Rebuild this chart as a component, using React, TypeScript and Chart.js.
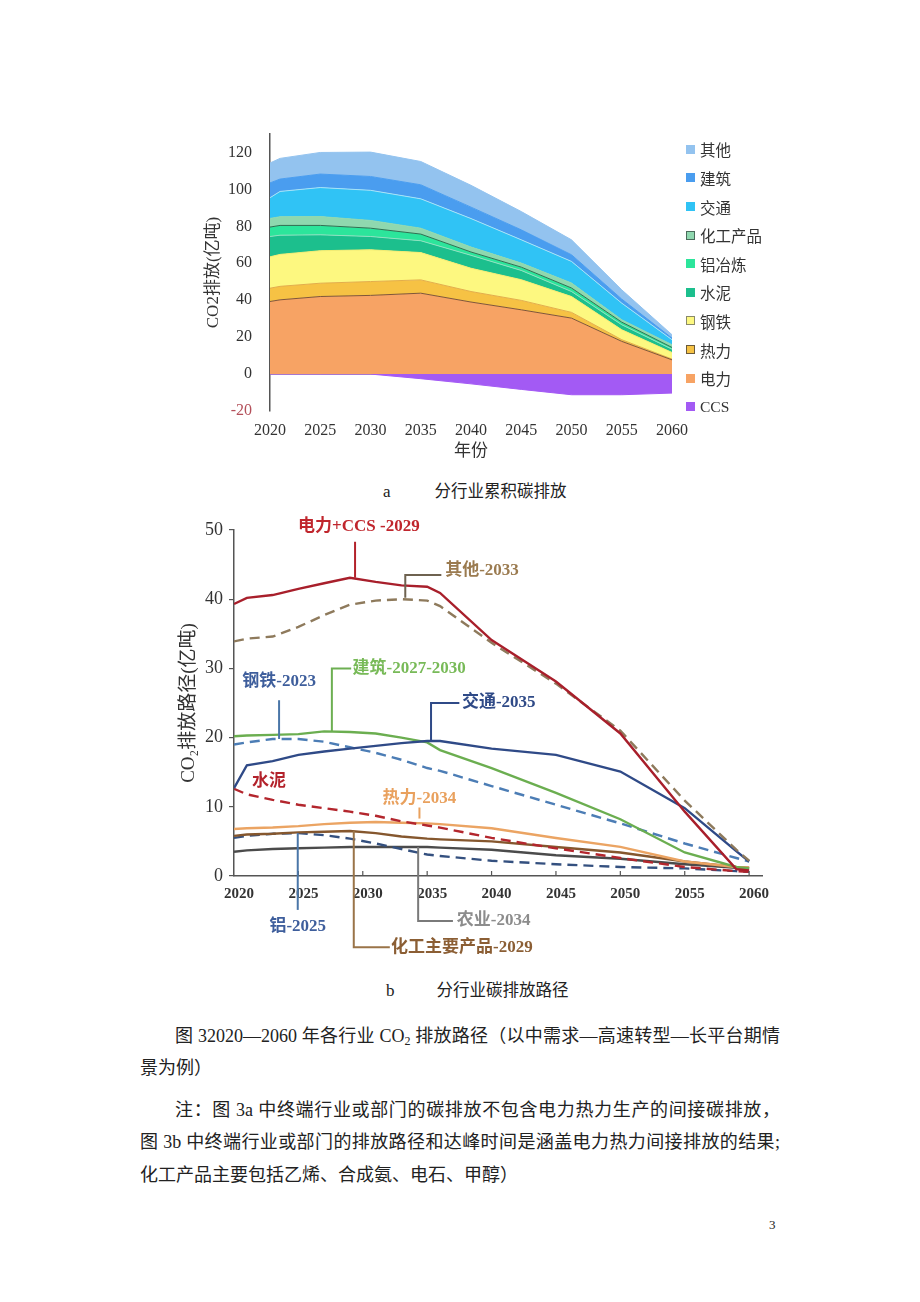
import React, { useEffect, useRef } from 'react';
import { Chart, registerables } from 'chart.js';

Chart.register(...registerables);

const FONT = "'Liberation Serif', 'Noto Sans CJK SC', serif";

// ---------- Chart a: stacked sector emissions ----------
const yearsA = [2020, 2021, 2025, 2030, 2035, 2040, 2045, 2050, 2055, 2060];
const powerA = [39.3, 40.2, 42.0, 42.6, 43.8, 39.0, 34.8, 30.3, 17.7, 7.7];
const heatA = [7.2, 7.3, 7.2, 7.5, 7.2, 5.7, 5.1, 3.1, 0.9, 0.4];
const steelA = [17.0, 17.3, 17.6, 17.2, 14.8, 12.6, 11.2, 8.6, 5.4, 3.6];
const cementA = [11.0, 10.4, 8.6, 7.2, 6.4, 7.0, 5.0, 2.7, 2.7, 1.8];
const aluminumA = [5.1, 5.3, 5.1, 4.5, 3.6, 1.8, 1.8, 1.9, 1.4, 0.9];
const chemA = [4.7, 4.7, 4.8, 4.2, 3.2, 2.7, 2.2, 2.7, 1.3, 1.5];
const transportA = [11.2, 13.7, 15.7, 16.3, 15.9, 15.4, 12.6, 11.7, 9.0, 2.7];
const buildingA = [8.0, 6.7, 7.3, 7.5, 7.6, 6.2, 5.4, 3.6, 2.2, 0.9];
const otherA = [10.8, 11.2, 11.7, 13.2, 12.6, 11.8, 9.9, 8.1, 5.0, 1.8];
const ccsA = [0, 0, 0, 0, -2.5, -5.3, -8.3, -11.2, -11.2, -10.3];
const namesA = ['电力', '热力', '钢铁', '水泥', '铝冶炼', '化工产品', '交通', '建筑', '其他', 'CCS'];
const legendOrderA = [8, 7, 6, 5, 4, 3, 2, 1, 0, 9];
const yTicksA = [-20, 0, 20, 40, 60, 80, 100, 120];

const fillA = ['#F7A364', '#F6C244', '#FDF880', '#1CBF8D', '#2CE59B', '#8FD8AF', '#30C3F5', '#4A9DEF', '#93C3EF', '#A35AF4'];
const edgeA = ['#7F5536', '#E3AE4A', '#F3EC72', '#8FE2C0', '#2F6E50', '#8FD8AF', '#A6E2F7', '#4A9DEF', '#93C3EF', '#A35AF4'];
const legendBorderA = ['transparent', '#6b5a3a', '#8a8a6a', 'transparent', 'transparent', '#4b6b5b', 'transparent', 'transparent', 'transparent', 'transparent'];

// ---------- Chart b: sector pathways ----------
const yearsB = [2020, 2021, 2023, 2025, 2027, 2029, 2031, 2033, 2035, 2036, 2040, 2045, 2050, 2055, 2059, 2060];
const powerB = [39.3, 40.2, 40.6, 41.5, 42.3, 43.1, 42.5, 42.0, 41.8, 40.9, 34.1, 28.1, 20.6, 9.3, 1.0, 0.8];
const otherB = [33.9, 34.3, 34.6, 36.0, 37.7, 39.2, 39.8, 40.0, 39.8, 39.0, 33.7, 27.8, 21.0, 10.9, 3.8, 2.2];
const transportB = [12.7, 16.0, 16.6, 17.5, 18.0, 18.4, 18.8, 19.2, 19.5, 19.5, 18.4, 17.5, 15.1, 9.8, 3.6, 2.1];
const buildingB = [20.2, 20.3, 20.4, 20.5, 20.9, 20.8, 20.6, 20.0, 19.3, 18.2, 15.6, 12.0, 8.2, 3.4, 1.3, 1.1];
const steelB = [19.0, 19.3, 19.8, 19.8, 19.4, 18.6, 17.8, 16.8, 15.6, 15.2, 13.0, 10.3, 7.6, 4.7, 2.6, 2.1];
const cementB = [12.6, 11.8, 11.0, 10.3, 9.8, 9.3, 8.7, 7.9, 7.3, 7.0, 5.5, 4.0, 2.6, 1.3, 0.7, 0.6];
const heatB = [6.8, 6.9, 7.0, 7.2, 7.5, 7.7, 7.8, 7.7, 7.6, 7.5, 6.9, 5.5, 4.2, 2.1, 1.3, 1.2];
const chemB = [5.8, 6.0, 6.1, 6.3, 6.4, 6.5, 6.2, 5.7, 5.4, 5.3, 5.0, 4.2, 3.4, 2.1, 1.3, 1.2];
const aluminumB = [5.5, 5.8, 6.1, 6.2, 5.9, 5.4, 4.7, 3.9, 3.1, 2.9, 2.2, 1.7, 1.3, 1.1, 0.7, 0.6];
const agriB = [3.5, 3.7, 3.9, 4.0, 4.1, 4.2, 4.2, 4.2, 4.2, 4.1, 3.8, 3.0, 2.5, 1.7, 1.2, 1.1];
const namesB = ['电力+CCS', '其他', '交通', '建筑', '钢铁', '水泥', '热力', '化工主要产品', '铝', '农业'];
const colorsB = ['#A81F2B', '#8E7A5C', '#2F4A87', '#6BAE50', '#4C7DB5', '#B3262D', '#EBA463', '#85572E', '#34507F', '#4B4B4B'];
const dashedB = [false, true, false, false, true, true, false, false, true, false];

// callouts (in data units: year, 亿吨)
const calloutsB = [
  { text: '电力+CCS -2029', color: '#C0262D', line: '#B3222B', x: 2029.4, from: 43.1, to: 48.3, labelX: 2029.7, labelY: 50.5, align: 'center' },
  { text: '其他-2033', color: '#9B7B50', line: '#6E6250', x: 2033.3, from: 40.2, to: 43.5, toX: 2036.1, labelX: 2036.4, labelY: 44.1, align: 'left' },
  { text: '建筑-2027-2030', color: '#78BA58', line: '#6DAF52', x: 2027.6, from: 20.9, to: 30.0, toX: 2029.1, labelX: 2029.2, labelY: 30.0, align: 'left' },
  { text: '钢铁-2023', color: '#3E5E9C', line: '#4A76A8', x: 2023.5, from: 19.8, to: 25.4, labelX: 2023.5, labelY: 28.1, align: 'center' },
  { text: '交通-2035', color: '#2F4A87', line: '#2F4A87', x: 2035.3, from: 19.5, to: 25.0, toX: 2037.5, labelX: 2037.7, labelY: 25.1, align: 'left' },
  { text: '水泥', color: '#B3222B', labelX: 2021.4, labelY: 13.6, align: 'left' },
  { text: '热力-2034', color: '#E9A15E', line: '#E9A15E', x: 2034.4, from: 8.3, to: 9.9, labelX: 2034.4, labelY: 11.2, align: 'center' },
  { text: '铝-2025', color: '#3E5E9C', line: '#4A76A8', x: 2024.95, from: 6.2, to: -4.9, labelX: 2024.95, labelY: -7.3, align: 'center' },
  { text: '农业-2034', color: '#8C8C8C', line: '#7A7A7A', x: 2034.3, from: 4.2, to: -6.5, toX: 2037.0, labelX: 2037.3, labelY: -6.5, align: 'left' },
  { text: '化工主要产品-2029', color: '#8B5E34', line: '#9A7448', x: 2029.3, from: 6.5, to: -10.3, toX: 2032.1, labelX: 2032.2, labelY: -10.3, align: 'left' },
];

function StackedChart() {
  const ref = useRef<HTMLCanvasElement>(null);
  useEffect(() => {
    const series = [powerA, heatA, steelA, cementA, aluminumA, chemA, transportA, buildingA, otherA, ccsA];
    const datasets = series.map((vals, i) => ({
      label: namesA[i],
      data: yearsA.map((x, j) => ({ x, y: vals[j] })),
      backgroundColor: fillA[i],
      borderColor: edgeA[i],
      borderWidth: 1,
      pointRadius: 0,
      tension: 0,
      fill: i === 0 || i === 9 ? 'origin' : '-1',
      stack: i === 9 ? 'ccs' : 'main',
    }));
    const chart = new Chart(ref.current as HTMLCanvasElement, {
      type: 'line',
      data: { datasets } as any,
      options: {
        animation: false,
        responsive: false,
        layout: { padding: { top: 14, right: 22, left: 0, bottom: 0 } },
        plugins: { legend: { display: false }, tooltip: { enabled: false } },
        scales: {
          x: {
            type: 'linear', min: 2020, max: 2060,
            grid: { display: true, drawOnChartArea: false, drawTicks: true, tickLength: 6, tickColor: 'rgba(0,0,0,0)', color: 'rgba(0,0,0,0)' },
            border: { display: false },
            ticks: { stepSize: 5, padding: 4, color: '#333', maxRotation: 0, font: { family: FONT, size: 16 }, callback: (v: any) => String(v) },
            title: { display: true, text: '年份', color: '#333', font: { family: FONT, size: 17 }, padding: { top: 0, bottom: 18 } },
            afterFit: (s: any) => { s.height = 69; },
          },
          y: {
            stacked: true, min: -20, max: 130, z: 1,
            afterBuildTicks: (s: any) => { s.ticks = yTicksA.map((v) => ({ value: v })); },
            grid: {
              display: true, drawOnChartArea: true, drawTicks: true, tickLength: 14, tickColor: 'rgba(0,0,0,0)', lineWidth: 1.5,
              color: (c: any) => (c.tick && c.tick.value === 0 ? '#5B4343' : 'rgba(0,0,0,0)'),
            },
            border: { display: true, color: '#555', width: 1.5 },
            ticks: {
              padding: 4, font: { family: FONT, size: 16 },
              color: (c: any) => (c.tick && c.tick.value < 0 ? '#B4505A' : '#333'),
            },
            title: { display: true, text: 'CO2排放(亿吨)', color: '#333', font: { family: FONT, size: 17 }, padding: { top: 33, bottom: 0 } },
            afterFit: (s: any) => { s.width = 100; },
          },
        },
      } as any,
    });
    return () => chart.destroy();
  }, []);
  return (
    <canvas ref={ref} width={524} height={360} style={{ position: 'absolute', left: 170, top: 120, width: 524, height: 360 }} />
  );
}

const calloutPlugin = {
  id: 'callouts',
  afterDatasetsDraw(chart: any) {
    const { ctx, scales } = chart;
    const x = scales.x;
    const y = scales.y;
    ctx.save();
    ctx.strokeStyle = '#555';
    ctx.lineWidth = 1.2;
    x.ticks.forEach((t: any) => {
      if (t.value === x.min) return;
      const px = x.getPixelForValue(t.value);
      ctx.beginPath();
      ctx.moveTo(px, y.bottom);
      ctx.lineTo(px, y.bottom - 5);
      ctx.stroke();
    });
    calloutsB.forEach((a: any) => {
      if (a.x !== undefined) {
        ctx.strokeStyle = a.line;
        ctx.lineWidth = 2;
        ctx.beginPath();
        const px = x.getPixelForValue(a.x);
        ctx.moveTo(px, y.getPixelForValue(a.from));
        ctx.lineTo(px, y.getPixelForValue(a.to));
        if (a.toX !== undefined) ctx.lineTo(x.getPixelForValue(a.toX), y.getPixelForValue(a.to));
        ctx.stroke();
      }
      ctx.fillStyle = a.color;
      ctx.font = `bold 17px ${FONT}`;
      ctx.textAlign = a.align;
      ctx.textBaseline = 'middle';
      ctx.fillText(a.text, x.getPixelForValue(a.labelX), y.getPixelForValue(a.labelY));
    });
    ctx.restore();
  },
};

function PathChart() {
  const ref = useRef<HTMLCanvasElement>(null);
  useEffect(() => {
    const series = [powerB, otherB, transportB, buildingB, steelB, cementB, heatB, chemB, aluminumB, agriB];
    const datasets = series.map((vals, i) => ({
      label: namesB[i],
      data: yearsB.map((x, j) => ({ x, y: vals[j] })),
      borderColor: colorsB[i],
      backgroundColor: colorsB[i],
      borderWidth: 2.4,
      borderDash: dashedB[i] ? [10, 6] : [],
      pointRadius: 0,
      tension: 0,
      fill: false,
    }));
    const chart = new Chart(ref.current as HTMLCanvasElement, {
      type: 'line',
      data: { datasets } as any,
      plugins: [calloutPlugin],
      options: {
        animation: false,
        responsive: false,
        layout: { padding: { top: 25, right: 22, left: 0, bottom: 0 } },
        plugins: { legend: { display: false }, tooltip: { enabled: false } },
        scales: {
          x: {
            type: 'linear', min: 2020, max: 2061,
            grid: { display: true, drawOnChartArea: false, drawTicks: true, tickLength: 6, tickColor: 'rgba(0,0,0,0)', color: 'rgba(0,0,0,0)' },
            border: { display: true, color: '#555', width: 1.5 },
            ticks: {
              stepSize: 5, includeBounds: false, padding: 3, labelOffset: 5, color: '#333', maxRotation: 0,
              font: { family: FONT, size: 15, weight: 'bold' }, callback: (v: any) => String(v),
            },
            afterFit: (s: any) => { s.height = 99; },
          },
          y: {
            min: 0, max: 50,
            grid: { display: true, drawOnChartArea: false, drawTicks: true, tickLength: 5, color: '#555', lineWidth: 1.2 },
            border: { display: true, color: '#555', width: 1.5 },
            ticks: { stepSize: 10, padding: 6, color: '#333', font: { family: FONT, size: 18 } },
            title: { display: true, text: 'CO₂排放路径(亿吨)', color: '#333', font: { family: FONT, size: 19 }, padding: { top: 8, bottom: 0 } },
            afterFit: (s: any) => { s.width = 64; },
          },
        },
      } as any,
    });
    return () => chart.destroy();
  }, []);
  return (
    <canvas ref={ref} width={614} height={470} style={{ position: 'absolute', left: 170, top: 505, width: 614, height: 470 }} />
  );
}

const abs = (left: number, top: number, extra: any = {}) => ({ position: 'absolute' as const, left, top, ...extra });

export default function App() {
  const bodyFont = { fontFamily: FONT, fontSize: 18, lineHeight: '24px', color: '#222', whiteSpace: 'nowrap' as const };
  const sub = { fontSize: 12, verticalAlign: '-3px' };
  return (
    <div style={{ position: 'absolute', left: 0, top: 0, width: 920, height: 1302, background: '#fff' }}>
      <StackedChart />
      {legendOrderA.map((idx, k) => (
        <div key={namesA[idx]} style={abs(686, 149.3 + k * 28.6 - 10, { height: 20, display: 'flex', alignItems: 'center', fontFamily: FONT, fontSize: 15.5, color: '#333', whiteSpace: 'nowrap' })}>
          <span style={{ display: 'inline-block', width: 7, height: 7, background: fillA[idx], border: `1px solid ${legendBorderA[idx] === 'transparent' ? fillA[idx] : legendBorderA[idx]}`, marginRight: 5 }} />
          <span>{namesA[idx]}</span>
        </div>
      ))}
      <div style={abs(383, 481, { fontFamily: FONT, fontSize: 16.5, lineHeight: '22px', color: '#222', whiteSpace: 'nowrap' })}>
        <span style={{ fontSize: 17, marginRight: 44 }}>a</span>分行业累积碳排放
      </div>
      <PathChart />
      <div style={abs(386, 980, { fontFamily: FONT, fontSize: 16.5, lineHeight: '22px', color: '#222', whiteSpace: 'nowrap' })}>
        <span style={{ fontSize: 17, marginRight: 42 }}>b</span>分行业碳排放路径
      </div>
      <div style={abs(175, 1024, { ...bodyFont, width: 605, textAlign: 'justify', textAlignLast: 'justify' })}>
        图 32020—2060 年各行业 CO<span style={sub}>2</span> 排放路径（以中需求—高速转型—长平台期情
      </div>
      <div style={abs(140, 1056, bodyFont)}>景为例）</div>
      <div style={abs(175, 1098, { ...bodyFont, width: 605, textAlign: 'justify', textAlignLast: 'justify' })}>
        注：图 3a 中终端行业或部门的碳排放不包含电力热力生产的间接碳排放，
      </div>
      <div style={abs(140, 1130, { ...bodyFont, width: 640, textAlign: 'justify', textAlignLast: 'justify' })}>
        图 3b 中终端行业或部门的排放路径和达峰时间是涵盖电力热力间接排放的结果;
      </div>
      <div style={abs(140, 1163, bodyFont)}>化工产品主要包括乙烯、合成氨、电石、甲醇）</div>
      <div style={abs(769, 1216, { fontFamily: FONT, fontSize: 13, lineHeight: '18px', color: '#222' })}>3</div>
    </div>
  );
}
